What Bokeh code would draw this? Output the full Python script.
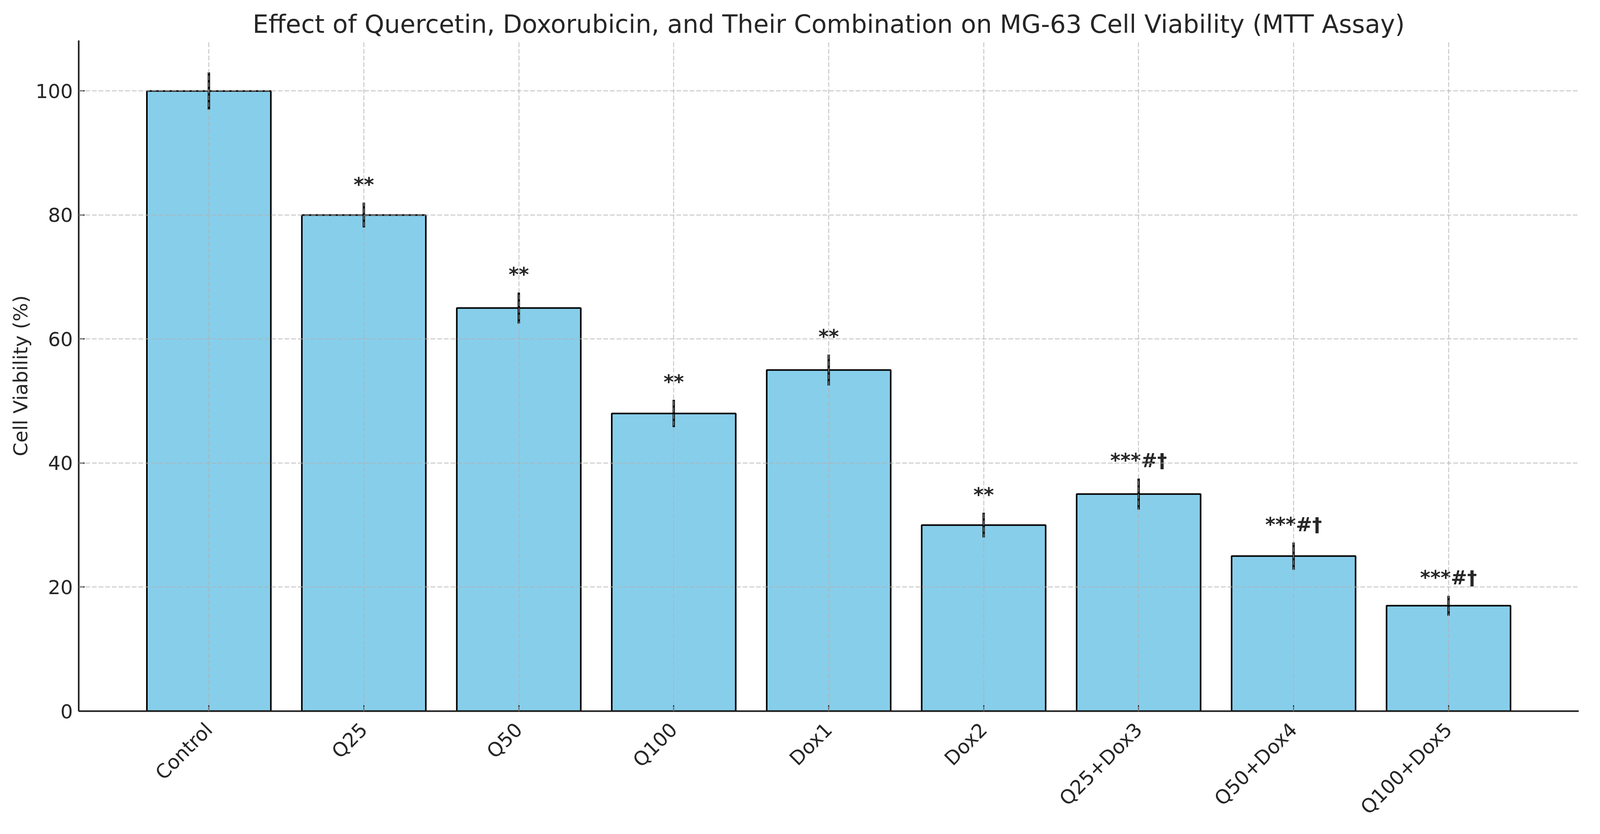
import numpy as np
from bokeh.plotting import figure
from bokeh.models import FactorRange, Range1d, FixedTicker, ColumnDataSource
from bokeh.embed import file_html
from bokeh.resources import INLINE
from bokeh.core.properties import value

groups = ["Control", "Q25", "Q50", "Q100", "Dox1", "Dox2",
          "Q25+Dox3", "Q50+Dox4", "Q100+Dox5"]
viability = [100, 80, 65, 48, 55, 30, 35, 25, 17]
errors = [3.0, 2.0, 2.5, 2.2, 2.5, 2.0, 2.5, 2.2, 1.6]
significance = ["", "**", "**", "**", "**", "**", "***#†", "***#†", "***#†"]
y_ticks = [0, 20, 40, 60, 80, 100]

title_text = "Effect of Quercetin, Doxorubicin, and Their Combination on MG-63 Cell Viability (MTT Assay)"
y_label = "Cell Viability (%)"

FONT = "DejaVu Sans"
TEXT_COLOR = "#262626"

vals = np.array(viability, dtype=float)
errs = np.array(errors, dtype=float)
src = ColumnDataSource(dict(
    g=groups, v=vals, lo=vals - errs, hi=vals + errs,
    ty=vals + errs + 1.0, sig=significance,
))

n = len(groups)
ymax = float((vals + errs).max()) * 1.05

p = figure(
    width=4080, height=2119,
    x_range=FactorRange(factors=groups, range_padding=0.68 / n),
    y_range=Range1d(0, ymax),
    output_backend="svg", toolbar_location=None,
    min_border_left=201, min_border_right=39,
    min_border_top=103, min_border_bottom=287,
)
p.background_fill_color = "white"
p.border_fill_color = "white"
p.outline_line_color = None

p.title.text = title_text
p.title.text_font = FONT
p.title.text_font_size = "64px"
p.title.text_font_style = "normal"
p.title.text_color = TEXT_COLOR
p.title.align = "center"
p.title.standoff = 10

# grid
for g in (p.xgrid, p.ygrid):
    g.grid_line_color = "#b0b0b0"
    g.grid_line_alpha = 0.7
    g.grid_line_width = 2.5
    g.grid_line_dash = "12 5"
    g.level = "guide"
p.ygrid.ticker = FixedTicker(ticks=y_ticks)

p.vbar(x="g", top="v", width=0.8, source=src,
       fill_color="#87CEEB", line_color="black", line_width=4)
p.segment(x0="g", y0="lo", x1="g", y1="hi", source=src,
          line_color="black", line_width=6)
p.text(x="g", y="ty", text="sig", source=src, y_offset=-30,
       text_align="center", text_baseline="alphabetic",
       text_font=value(FONT), text_font_size="50px",
       text_font_style="bold", text_color=TEXT_COLOR)

for ax in (p.xaxis[0], p.yaxis[0]):
    ax.axis_line_color = "#1a1a1a"
    ax.axis_line_width = 4
    ax.major_tick_in = 15
    ax.major_tick_out = 0
    ax.major_tick_line_width = 3
    ax.major_tick_line_color = "#1a1a1a"
    ax.minor_tick_line_color = None
    ax.major_label_text_font = FONT
    ax.major_label_text_font_size = "50px"
    ax.major_label_text_color = TEXT_COLOR

p.yaxis.ticker = FixedTicker(ticks=y_ticks)
p.yaxis.major_label_standoff = 15
p.yaxis.axis_label = y_label
p.yaxis.axis_label_text_font = FONT
p.yaxis.axis_label_text_font_size = "50px"
p.yaxis.axis_label_text_font_style = "normal"
p.yaxis.axis_label_text_color = TEXT_COLOR
p.yaxis.axis_label_standoff = 6

p.xaxis.major_label_orientation = np.pi / 4
p.xaxis.major_label_standoff = 39

open("out.html", "w").write(file_html(p, INLINE))
